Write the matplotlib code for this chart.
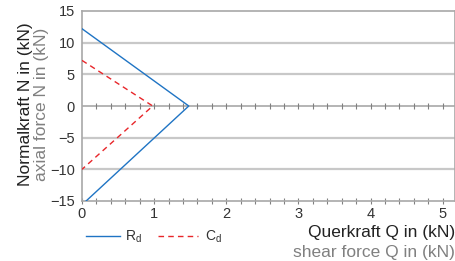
import numpy as np
import matplotlib.pyplot as plt

plt.rcParams['font.family'] = ['Liberation Sans', 'DejaVu Sans']

# Bemessungswerte (Widerstand R_d und Einwirkung C_d)
rd_q = [0.0, 1.48, 0.0]
rd_n = [12.2, 0.0, -15.6]
cd_q = [0.0, 0.98, 0.0]
cd_n = [7.2, 0.0, -10.0]

x_ticks = [0, 1, 2, 3, 4, 5]
y_ticks = [-15, -10, -5, 0, 5, 10, 15]

fig = plt.figure(figsize=(4.56, 2.61), dpi=100)
ax = fig.add_axes([82 / 456, 1 - 201 / 261, (455 - 82) / 456, (201 - 11) / 261])

ax.set_xlim(0, 5.17)
ax.set_ylim(-15, 15)

grau = '#a8a8a8'
for y in [-10, -5, 5, 10]:
    ax.axhline(y, color='#c8c8c8', lw=1.6, zorder=0)
ax.axhline(0, color=grau, lw=1.2, zorder=1)
# kleine Striche auf der Nulllinie
minor = np.arange(0.2, 5.1, 0.2)
ax.plot(minor, np.zeros_like(minor), ls='none', marker='|', ms=5,
        mew=0.8, color='#808080', zorder=1)

ax.plot(rd_q, rd_n, color='#1f74c4', lw=1.0, zorder=3)
ax.plot(cd_q, cd_n, color='#e8262a', lw=1.0, ls=(0, (4, 3)), zorder=3)

ax.set_xticks(x_ticks)
ax.set_xticks(minor, minor=True)
ax.set_yticks(y_ticks)
ax.tick_params(axis='x', which='both', direction='inout', length=5, width=0.8,
               labelsize=10.5, pad=2)
ax.tick_params(axis='y', length=0, labelsize=10.5, pad=5)
ax.tick_params(labelcolor='#333333', which='both')
ax.tick_params(axis='x', which='both', color='#808080')

for s in ax.spines.values():
    s.set_color(grau)
    s.set_linewidth(1.2)

fig.text(26 / 456, 1 - 104 / 261, 'Normalkraft N in (kN)', rotation=90,
         ha='center', va='center', fontsize=12.5, color='#222222')
fig.text(42 / 456, 1 - 104 / 261, 'axial force N in (kN)', rotation=90,
         ha='center', va='center', fontsize=12.5, color='#808080')
fig.text(455 / 456, 1 - 233 / 261, 'Querkraft Q in (kN)', ha='right',
         va='center', fontsize=12.5, color='#222222')
fig.text(455 / 456, 1 - 253 / 261, 'shear force Q in (kN)', ha='right',
         va='center', fontsize=12.5, color='#808080')

# Legende
fig.lines.append(plt.Line2D([86 / 456, 120 / 456], [1 - 236 / 261] * 2,
                            transform=fig.transFigure, color='#1f74c4', lw=1.0))
fig.text(125 / 456, 1 - 237 / 261, r'R$_\mathregular{d}$', va='center',
         fontsize=10, color='#333333')
fig.lines.append(plt.Line2D([158 / 456, 198 / 456], [1 - 236 / 261] * 2,
                            transform=fig.transFigure, color='#e8262a', lw=1.0,
                            ls=(0, (4, 3))))
fig.text(205 / 456, 1 - 237 / 261, r'C$_\mathregular{d}$', va='center',
         fontsize=10, color='#333333')

fig.savefig('out.png', dpi=100)
